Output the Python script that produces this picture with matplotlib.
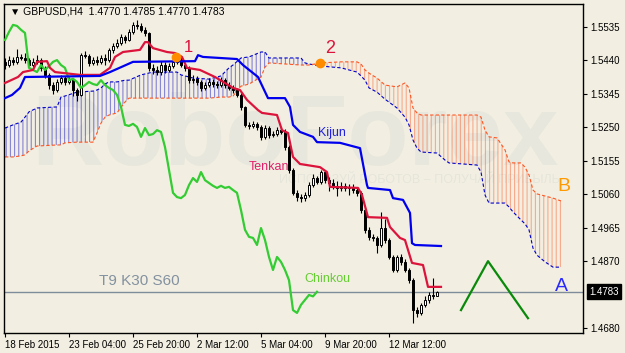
import numpy as np
import matplotlib.pyplot as plt
from matplotlib.transforms import blended_transform_factory

plt.rcParams['font.family'] = ['Liberation Sans', 'DejaVu Sans']
plt.rcParams['hatch.linewidth'] = 0.8

BG = '#F2EFE2'

# GBPUSD H4 candles, bar index 0..108
open_ = [1.5436, 1.5427, 1.5441, 1.5436, 1.5450, 1.5447, 1.5441, 1.5427, 1.5436, 1.5441,
         1.5419, 1.5399, 1.5370, 1.5356, 1.5379, 1.5390, 1.5379, 1.5384, 1.5356, 1.5342,
         1.5455, 1.5453, 1.5433, 1.5441, 1.5436, 1.5447, 1.5441, 1.5470, 1.5481, 1.5490,
         1.5507, 1.5498, 1.5521, 1.5541, 1.5538, 1.5527, 1.5518, 1.5419, 1.5413, 1.5407,
         1.5427, 1.5413, 1.5424, 1.5436, 1.5441, 1.5427, 1.5419, 1.5384, 1.5388, 1.5379,
         1.5362, 1.5370, 1.5379, 1.5373, 1.5370, 1.5384, 1.5370, 1.5362, 1.5356, 1.5342,
         1.5308, 1.5257, 1.5254, 1.5260, 1.5251, 1.5223, 1.5248, 1.5228, 1.5231, 1.5242,
         1.5237, 1.5194, 1.5129, 1.5064, 1.5052, 1.5049, 1.5058, 1.5086, 1.5106, 1.5095,
         1.5123, 1.5100, 1.5092, 1.5084, 1.5078, 1.5084, 1.5078, 1.5081, 1.5072, 1.5064,
         1.5015, 1.4959, 1.4939, 1.4936, 1.4916, 1.4964, 1.4930, 1.4882, 1.4845, 1.4882,
         1.4868, 1.4845, 1.4816, 1.4731, 1.4723, 1.4746, 1.4760, 1.4774, 1.4770]
high = [1.5446, 1.5452, 1.5449, 1.5472, 1.5458, 1.5460, 1.5448, 1.5447, 1.5455, 1.5446,
        1.5425, 1.5405, 1.5380, 1.5386, 1.5398, 1.5396, 1.5392, 1.5390, 1.5362, 1.5462,
        1.5468, 1.5458, 1.5450, 1.5452, 1.5455, 1.5457, 1.5476, 1.5490, 1.5500, 1.5515,
        1.5512, 1.5528, 1.5550, 1.5556, 1.5546, 1.5535, 1.5522, 1.5430, 1.5425, 1.5438,
        1.5435, 1.5432, 1.5445, 1.5452, 1.5450, 1.5433, 1.5425, 1.5398, 1.5395, 1.5385,
        1.5378, 1.5390, 1.5386, 1.5383, 1.5393, 1.5390, 1.5378, 1.5370, 1.5362, 1.5348,
        1.5312, 1.5266, 1.5268, 1.5265, 1.5258, 1.5256, 1.5253, 1.5240, 1.5250, 1.5252,
        1.5244, 1.5200, 1.5134, 1.5072, 1.5062, 1.5066, 1.5094, 1.5118, 1.5112, 1.5130,
        1.5128, 1.5110, 1.5102, 1.5098, 1.5094, 1.5092, 1.5090, 1.5088, 1.5080, 1.5070,
        1.5020, 1.4966, 1.4948, 1.4942, 1.5010, 1.4990, 1.4936, 1.4888, 1.4888, 1.4890,
        1.4875, 1.4850, 1.4822, 1.4740, 1.4752, 1.4770, 1.4782, 1.4822, 1.4785]
low = [1.5415, 1.5420, 1.5428, 1.5430, 1.5440, 1.5433, 1.5418, 1.5422, 1.5430, 1.5410,
       1.5390, 1.5360, 1.5345, 1.5350, 1.5372, 1.5370, 1.5374, 1.5340, 1.5326, 1.5338,
       1.5446, 1.5425, 1.5428, 1.5426, 1.5430, 1.5428, 1.5436, 1.5462, 1.5475, 1.5484,
       1.5490, 1.5494, 1.5515, 1.5530, 1.5520, 1.5510, 1.5410, 1.5402, 1.5398, 1.5400,
       1.5405, 1.5408, 1.5418, 1.5430, 1.5420, 1.5410, 1.5375, 1.5376, 1.5370, 1.5352,
       1.5355, 1.5364, 1.5366, 1.5362, 1.5365, 1.5362, 1.5355, 1.5348, 1.5335, 1.5300,
       1.5250, 1.5246, 1.5247, 1.5243, 1.5215, 1.5218, 1.5220, 1.5222, 1.5225, 1.5230,
       1.5186, 1.5120, 1.5058, 1.5040, 1.5038, 1.5040, 1.5052, 1.5080, 1.5088, 1.5090,
       1.5093, 1.5070, 1.5076, 1.5055, 1.5070, 1.5068, 1.5058, 1.5064, 1.5056, 1.5008,
       1.4950, 1.4930, 1.4926, 1.4893, 1.4910, 1.4922, 1.4875, 1.4838, 1.4840, 1.4860,
       1.4838, 1.4808, 1.4694, 1.4712, 1.4718, 1.4740, 1.4752, 1.4762, 1.4770]
close = [1.5427, 1.5441, 1.5436, 1.5450, 1.5447, 1.5441, 1.5427, 1.5436, 1.5441, 1.5419,
         1.5399, 1.5370, 1.5356, 1.5379, 1.5390, 1.5379, 1.5384, 1.5356, 1.5342, 1.5455,
         1.5453, 1.5433, 1.5441, 1.5436, 1.5447, 1.5441, 1.5470, 1.5481, 1.5490, 1.5507,
         1.5498, 1.5521, 1.5541, 1.5538, 1.5527, 1.5518, 1.5419, 1.5413, 1.5407, 1.5427,
         1.5413, 1.5424, 1.5436, 1.5441, 1.5427, 1.5419, 1.5384, 1.5388, 1.5379, 1.5362,
         1.5370, 1.5379, 1.5373, 1.5370, 1.5384, 1.5370, 1.5362, 1.5356, 1.5342, 1.5308,
         1.5257, 1.5254, 1.5260, 1.5251, 1.5223, 1.5248, 1.5228, 1.5231, 1.5242, 1.5237,
         1.5194, 1.5129, 1.5064, 1.5052, 1.5049, 1.5058, 1.5086, 1.5106, 1.5095, 1.5123,
         1.5100, 1.5092, 1.5084, 1.5078, 1.5084, 1.5078, 1.5081, 1.5072, 1.5064, 1.5015,
         1.4959, 1.4939, 1.4936, 1.4916, 1.4964, 1.4930, 1.4882, 1.4845, 1.4882, 1.4868,
         1.4845, 1.4816, 1.4731, 1.4723, 1.4746, 1.4760, 1.4774, 1.4770, 1.4783]

# Tenkan (9) and Kijun (30): (bar, price)
tenkan_x = [0, 3.25, 4.5, 7, 8, 10.5, 11.25, 12.5, 18.75, 23.75, 26.25, 27.5, 29.5, 33.75,
            35, 35.75, 37, 40.5, 42.5, 44.25, 45.5, 48.75, 52.5, 57, 58.75, 60.5, 63.25,
            64.25, 68, 69.25, 70.75, 72, 73.75, 78.75, 80.5, 81.25, 88.25, 89.25, 90.75,
            95.5, 96.25, 98.75, 100, 101.75, 104.5, 105.75, 109]
tenkan_y = [1.5376, 1.5393, 1.5407, 1.5413, 1.5436, 1.5438, 1.5419, 1.5407, 1.5399, 1.5399,
            1.5419, 1.5450, 1.5464, 1.5470, 1.5492, 1.5492, 1.5475, 1.5464, 1.5461, 1.5450,
            1.5419, 1.5413, 1.5393, 1.5362, 1.5356, 1.5328, 1.5299, 1.5291, 1.5285, 1.5242,
            1.5234, 1.5166, 1.5146, 1.5137, 1.5123, 1.5081, 1.5078, 1.5058, 1.4995, 1.4993,
            1.4967, 1.4936, 1.4930, 1.4865, 1.4859, 1.4797, 1.4797]
kijun_x = [0, 1.75, 3.75, 5, 23.75, 26.25, 32, 47.5, 48.25, 49.5, 58, 59.5, 63.25, 65.75,
           70, 71.25, 72, 73.75, 77, 78, 83.75, 88.75, 90.5, 90.75, 96.25, 97, 99.5, 101.25,
           101.75, 102.5, 109]
kijun_y = [1.5333, 1.5342, 1.5362, 1.5393, 1.5396, 1.5407, 1.5436, 1.5438, 1.5455, 1.5450,
           1.5444, 1.5427, 1.5393, 1.5333, 1.5333, 1.5308, 1.5257, 1.5237, 1.5223, 1.5208,
           1.5206, 1.5191, 1.5086, 1.5078, 1.5072, 1.5049, 1.5044, 1.5007, 1.4921, 1.4916,
           1.4913]

# Senkou spans (already shifted 30 bars ahead)
senkou_x = [0, 2, 4, 5, 6, 8, 13, 14, 15, 18, 22, 23, 24, 25, 26, 28, 30, 31, 34, 37, 43, 44,
            47, 51, 54, 56, 57, 59, 61, 64, 65, 66, 74, 75, 76, 79, 84, 88, 89, 90, 91, 93,
            95, 98, 100, 101, 102, 103, 104, 108, 110, 111, 118, 119, 120, 121, 123, 125,
            126, 127, 129, 130, 131, 132, 133, 135, 137, 139]
senkou_a = [1.5248, 1.5257, 1.5265, 1.5279, 1.5294, 1.5305, 1.5308, 1.5336, 1.5339, 1.5350,
            1.5353, 1.5356, 1.5362, 1.5373, 1.5379, 1.5379, 1.5384, 1.5384, 1.5399, 1.5407,
            1.5407, 1.5399, 1.5390, 1.5387, 1.5396, 1.5419, 1.5427, 1.5447, 1.5450, 1.5464,
            1.5464, 1.5447, 1.5447, 1.5433, 1.5430, 1.5424, 1.5419, 1.5407, 1.5396, 1.5384,
            1.5362, 1.5350, 1.5330, 1.5305, 1.5279, 1.5257, 1.5214, 1.5191, 1.5180, 1.5177,
            1.5157, 1.5149, 1.5143, 1.5123, 1.5058, 1.5035, 1.5035, 1.5035, 1.5024, 1.5010,
            1.4987, 1.4976, 1.4959, 1.4907, 1.4887, 1.4868, 1.4853, 1.4853]
senkou_b = [1.5166, 1.5166, 1.5169, 1.5172, 1.5183, 1.5197, 1.5200, 1.5200, 1.5206, 1.5208,
            1.5208, 1.5234, 1.5262, 1.5279, 1.5285, 1.5291, 1.5322, 1.5333, 1.5333, 1.5333,
            1.5333, 1.5333, 1.5333, 1.5333, 1.5336, 1.5336, 1.5339, 1.5367, 1.5373, 1.5393,
            1.5421, 1.5433, 1.5427, 1.5427, 1.5427, 1.5433, 1.5436, 1.5436, 1.5430, 1.5413,
            1.5404, 1.5390, 1.5370, 1.5365, 1.5376, 1.5362, 1.5305, 1.5291, 1.5285, 1.5285,
            1.5285, 1.5285, 1.5285, 1.5279, 1.5242, 1.5223, 1.5220, 1.5186, 1.5152, 1.5149,
            1.5149, 1.5137, 1.5115, 1.5072, 1.5061, 1.5055, 1.5049, 1.5041]

tick_bars = [0, 16, 32, 48, 64, 80, 96]
tick_labels = ['18 Feb 2015', '23 Feb 04:00', '25 Feb 20:00', '2 Mar 12:00',
               '5 Mar 04:00', '9 Mar 20:00', '12 Mar 12:00']
price_ticks = [1.5535, 1.5440, 1.5345, 1.5250, 1.5155, 1.5060, 1.4965, 1.4870, 1.4680]
last_price = 1.4783
signal_x = [42.75, 78.75]
signal_y = [1.5450, 1.5433]
zigzag_x = [114, 120.75, 130.75]
zigzag_y = [1.4731, 1.4870, 1.4708]

fig = plt.figure(figsize=(6.25, 3.53), dpi=100, facecolor=BG)
ax = fig.add_axes([4 / 625, 20 / 353, 579 / 625, 329 / 353], facecolor=BG)

# watermark
ax.text(0.503, 0.51, 'RoboForex', transform=ax.transAxes, fontsize=72, fontweight='bold',
        color='#E8E7DD', ha='center', va='baseline', zorder=0)
ax.text(0.718, 0.456, 'ИСПОЛЬЗУЙ РОБОТОВ – ПОЛУЧАЙ ПРИБЫЛЬ', transform=ax.transAxes,
        fontsize=9, color='#E6E5DB', ha='center', va='baseline', zorder=0)

# kumo
sx = np.array(senkou_x)
sa = np.array(senkou_a)
sb = np.array(senkou_b)
with plt.rc_context({'hatch.color': (0.0, 0.0, 0.8, 0.45)}):
    ax.fill_between(sx, sa, sb, where=sa >= sb, interpolate=True, facecolor='none',
                    edgecolor=(0.0, 0.0, 0.8, 0.45), hatch='||||', lw=0, zorder=1)
with plt.rc_context({'hatch.color': (1.0, 0.4, 0.2, 0.5)}):
    ax.fill_between(sx, sa, sb, where=sa < sb, interpolate=True, facecolor='none',
                    edgecolor=(1.0, 0.4, 0.2, 0.5), hatch='||||', lw=0, zorder=1)
ax.plot(sx, sa, color='#0000CC', lw=0.8, ls=(0, (3, 2)), zorder=2)
ax.plot(sx, sb, color='#FF5522', lw=0.8, ls=(0, (3, 2)), zorder=2)

# candles
o = np.array(open_)
c = np.array(close)
idx = np.arange(len(c))
up = c >= o
ax.vlines(idx, low, high, color='black', lw=0.8, zorder=3)
ax.bar(idx[up], (c - o)[up], bottom=o[up], width=0.7, facecolor='white',
       edgecolor='black', lw=0.7, zorder=4)
ax.bar(idx[~up], (o - c)[~up], bottom=c[~up], width=0.7, facecolor='black',
       edgecolor='black', lw=0.7, zorder=4)

# chinkou = close shifted 30 bars back
ax.plot(idx[30:] - 30, c[30:], color='#33CC33', lw=1.6, zorder=5)
ax.plot(tenkan_x, tenkan_y, color='#DC143C', lw=1.6, zorder=6)
ax.plot(kijun_x, kijun_y, color='#0000EE', lw=1.6, zorder=6)

ax.axhline(last_price, color='#7F8C99', lw=1, zorder=2)
ax.plot(signal_x, signal_y, 'o', color='#FF8C00', ms=6, zorder=7)
ax.plot(zigzag_x, zigzag_y, color='#0A8A0A', lw=1.6, zorder=6)

# labels on the chart
ax.text(45.75, 1.5478, '1', color='#DC143C', fontsize=12, ha='center', va='center', zorder=8)
ax.text(81.25, 1.5475, '2', color='#DC143C', fontsize=13, ha='center', va='center', zorder=8)
ax.text(81.75, 1.5234, 'Kijun', color='#2020DD', fontsize=9, ha='center', va='center', zorder=8)
ax.text(66, 1.5137, 'Tenkan', color='#E0206A', fontsize=9, ha='center', va='center', zorder=8)
ax.text(80.5, 1.4819, 'Chinkou', color='#66CC33', fontsize=9, ha='center', va='center', zorder=8)
ax.text(33.5, 1.4814, 'T9 K30 S60', color='#8391A0', fontsize=11, ha='center', va='center', zorder=8)
ax.text(139.75, 1.5083, 'B', color='#FF9900', fontsize=14, ha='center', va='center', zorder=8)
ax.text(139, 1.4797, 'A', color='#2A2AFF', fontsize=14, ha='center', va='center', zorder=8)

ax.text(0.0104, 0.9757, '▼ GBPUSD,H4  1.4770 1.4785 1.4770 1.4783', transform=ax.transAxes,
        fontsize=7.5, color='black', ha='left', va='center', zorder=9)

# axes
ax.set_xlim(-0.25, 144.5)
ax.set_ylim(1.4666, 1.56003)
ax.set_xticks(tick_bars, tick_labels, ha='left')
ax.yaxis.tick_right()
ax.set_yticks(price_ticks, [f'{p:.4f}' for p in price_ticks])
ax.tick_params(axis='both', direction='out', length=3, width=0.8, labelsize=7,
               colors='black', pad=2)
for s in ax.spines.values():
    s.set_color('black')
    s.set_linewidth(1)

tr = blended_transform_factory(ax.transAxes, ax.transData)
ax.text(1.0104, last_price, f'{last_price:.4f}', transform=tr, fontsize=7, color='white',
        ha='left', va='center', bbox=dict(boxstyle='square,pad=0.25', fc='black', ec='black'),
        zorder=10, clip_on=False)

fig.savefig('out.png', dpi=100, facecolor=BG)
